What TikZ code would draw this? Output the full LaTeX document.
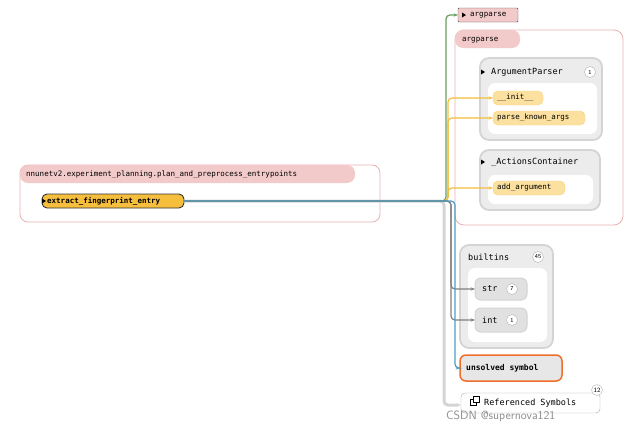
\documentclass[tikz,border=0pt]{standalone}
\usepackage{fontspec}
\setmonofont{DejaVu Sans Mono}
\usetikzlibrary{patterns,arrows.meta}
\definecolor{pk}{HTML}{E8B0B0}
\definecolor{pkf}{HTML}{F3CACA}
\definecolor{yl}{HTML}{F5BE3C}
\definecolor{ylf}{HTML}{FBE0A0}
\definecolor{gr}{HTML}{D4D4D4}
\definecolor{org}{HTML}{EE6E2A}
\definecolor{bl}{HTML}{4A9FC4}
\definecolor{gn}{HTML}{6A9E5A}
\tikzset{x=1pt,y=-1pt,
 txt/.style={font=\ttfamily\fontsize{7.5}{9}\selectfont,inner sep=0pt,anchor=west},
 big/.style={font=\ttfamily\fontsize{8.5}{10}\selectfont},
 grp/.style={draw=gr,line width=1.8pt,rounded corners=9pt},
 inner/.style={fill=white,rounded corners=7pt},
 fn/.style={draw=ylf!60!yl,fill=ylf,rounded corners=5pt},
 con/.style={rounded corners=4pt,-{Stealth[length=4.5pt]},line width=1.2pt},
 badge/.style={circle,draw=gray!60,fill=white,inner sep=0.8pt,minimum size=11pt,font=\sffamily\fontsize{6}{6}\selectfont}}
\begin{document}
\begin{tikzpicture}
\useasboundingbox (0,0) rectangle (642,434);
% module
\draw[pk,line width=0.8pt,fill=white,rounded corners=8pt] (20,165) rectangle (380,222);
\fill[pkf,rounded corners=8pt] (20,165) rectangle (355,183);
\node[txt] (modt) at (26,175) {nnunetv2.experiment\_planning.plan\_and\_preprocess\_entrypoints};
\draw[fill=yl,draw=black!80,line width=0.9pt,rounded corners=5pt] (42,194) rectangle (184,208);
\node[txt,font=\ttfamily\bfseries\fontsize{7.5}{9}\selectfont] (fe) at (47,201) {extract\_fingerprint\_entry};
\fill (42,198.5) -- (46,201) -- (42,203.5) -- cycle;
\coordinate (src) at (184,201);
% argparse top
\draw[black!70,fill=pkf,rounded corners=1pt] (458,8) rectangle (518,22);
\node[txt] (apt) at (470,15) {argparse};
\fill (462,12.5) -- (466,15) -- (462,17.5) -- cycle;
\coordinate (apin) at (458,15);
% argparse group
\draw[pk,line width=0.8pt,fill=white,rounded corners=9pt] (455,30) rectangle (623,225);
\fill[pkf,rounded corners=8pt] (455,30) rectangle (520,48);
\node[txt] (apg) at (462,40) {argparse};
% ArgumentParser
\draw[grp,fill=gr!45] (480,58) rectangle (602,140);
\fill[inner] (488,83) rectangle (597,134);
\node[txt,big] (ap) at (491,72) {ArgumentParser};
\fill (481,69.5) -- (485,72) -- (481,74.5) -- cycle;
\node[badge] (b1) at (590,72) {1};
\draw[fn] (493,91) rectangle (543,105); \node[txt] (init) at (497,98) {\_\_init\_\_};
\draw[fn] (493,111) rectangle (585,125); \node[txt] (pka) at (497,118) {parse\_known\_args};
% _ActionsContainer
\draw[grp,fill=gr!45] (480,150) rectangle (600,210);
\fill[inner] (488,175) rectangle (593,204);
\node[txt,big] (ac) at (491,162) {\_ActionsContainer};
\fill (481,159.5) -- (485,162) -- (481,164.5) -- cycle;
\draw[fn] (493,181) rectangle (565,195); \node[txt] (aa) at (497,188) {add\_argument};
% builtins
\draw[grp,fill=gr!45] (460,245) rectangle (553,348);
\fill[inner] (468,268) rectangle (547,342);
\node[txt,big] (bt) at (468,257) {builtins};
\node[badge] (b45) at (538,257) {45};
\draw[grp,line width=1pt,fill=gr!70,rounded corners=6pt] (475,278) rectangle (527,300);
\node[txt,big] (str) at (482,289) {str};
\node[badge] (b7) at (512,289) {7};
\draw[grp,line width=1pt,fill=gr!70,rounded corners=6pt] (475,308) rectangle (527,332);
\node[txt,big] (int) at (482,320) {int};
\node[badge] (b1b) at (512,320) {1};
% unsolved
\draw[org,line width=1.5pt,fill=gr!55,rounded corners=6pt] (460,355) rectangle (562,381);
\node[txt,font=\ttfamily\bfseries\fontsize{8}{9}\selectfont] (uns) at (466,368) {unsolved symbol};
% referenced
\draw[gr!80!black,fill=white,rounded corners=4pt] (461,393) rectangle (600,413);
\node[txt,big] (ref) at (484,403) {Referenced Symbols};
\draw[line width=0.8pt] (470,399) rectangle (476,405); \draw[line width=0.8pt,fill=white] (473,396) rectangle (479,402);
\node[badge,font=\sffamily\fontsize{6.5}{6}\selectfont] (b12) at (597,390) {12};
\node[font=\sffamily\fontsize{12}{13}\selectfont,text=gray!90,anchor=west,inner sep=0] (wm) at (446,416) {CSDN @supernova121};
% connectors
\draw[con,gr,line width=3pt] (src) -| (444,405) -- (461,405);
\draw[con,gn] (src) -| (446,15) -- (apin);
\draw[con,yl] (src) -| (448,98) -- (493,98);
\draw[con,yl] (src) -| (448,118) -- (493,118);
\draw[con,yl] (src) -| (448,188) -- (493,188);
\draw[con,gray] (src) -| (451,289) -- (475,289);
\draw[con,gray] (src) -| (451,320) -- (475,320);
\draw[con,bl] (src) -| (455,368) -- (460,368);
\end{tikzpicture}
\end{document}
